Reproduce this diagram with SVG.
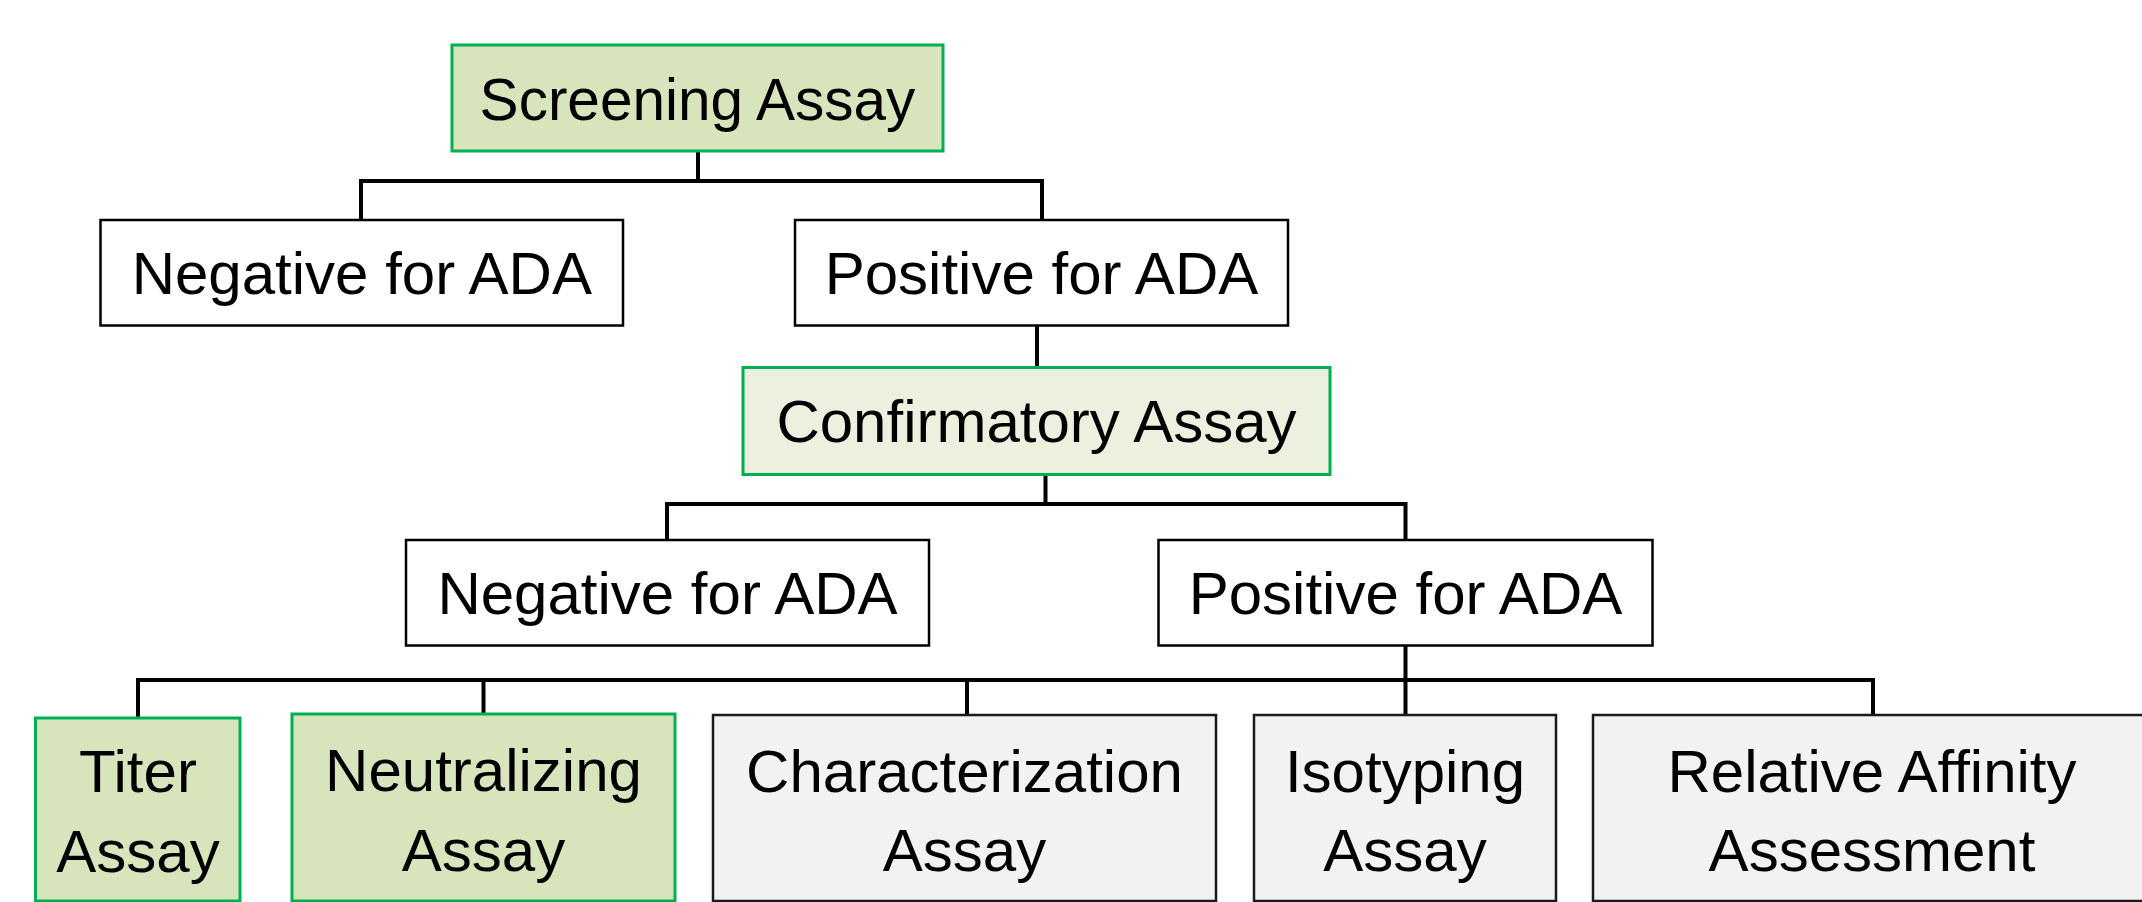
<svg xmlns="http://www.w3.org/2000/svg" width="2142" height="902" viewBox="0 0 2142 902">
<style>
  .box { fill: #ffffff; stroke: #000000; stroke-width: 2.5; }
  .green { fill: #d8e4bc; stroke: #00b050; stroke-width: 3; }
  .lgreen { fill: #ebf1de; stroke: #00b050; stroke-width: 3; }
  .gray { fill: #f2f2f2; stroke: #1a1a1a; stroke-width: 2.5; }
  .lbl { font-family: "Liberation Sans", Arial, sans-serif; font-size: 60px; fill: #000000; text-anchor: middle; }
  .sm { font-size: 58.5px; }
  .conn path { fill: none; stroke: #000000; stroke-width: 4; stroke-linejoin: miter; stroke-linecap: butt; }
</style>
<rect x="0" y="0" width="2142" height="902" fill="#ffffff"/>
<g id="connectors" class="conn">
  <path d="M698,151 V181"/>
  <path d="M361,220 V181 H1042 V220"/>
  <path d="M1037,326 V367"/>
  <path d="M1045.5,474 V504"/>
  <path d="M667,540 V504 H1405.5 V540"/>
  <path d="M1405.5,645 V715"/>
  <path d="M138,718 V680 H1873 V715"/>
  <path d="M483.5,680 V714"/>
  <path d="M967,680 V715"/>
</g>
<g id="screening">
  <rect class="green" x="452" y="45" width="491" height="106"/>
  <text class="lbl sm" x="697.5" y="120">Screening Assay</text>
</g>
<g id="negative1">
  <rect class="box" x="100.5" y="220" width="522.5" height="105.5"/>
  <text class="lbl" x="361.8" y="294">Negative for ADA</text>
</g>
<g id="positive1">
  <rect class="box" x="795" y="220" width="493" height="105.5"/>
  <text class="lbl" x="1041.5" y="294">Positive for ADA</text>
</g>
<g id="confirmatory">
  <rect class="lgreen" x="743" y="367.5" width="587" height="107"/>
  <text class="lbl" x="1036.5" y="442">Confirmatory Assay</text>
</g>
<g id="negative2">
  <rect class="box" x="406" y="540" width="523" height="105.5"/>
  <text class="lbl" x="667.5" y="614">Negative for ADA</text>
</g>
<g id="positive2">
  <rect class="box" x="1158.5" y="540" width="494" height="105.5"/>
  <text class="lbl" x="1405.5" y="614">Positive for ADA</text>
</g>
<g id="titer">
  <rect class="green" x="35.5" y="718" width="204.5" height="183"/>
  <text class="lbl" x="138" y="792">Titer</text>
  <text class="lbl" x="138" y="872">Assay</text>
</g>
<g id="neutralizing">
  <rect class="green" x="292" y="714" width="383" height="187"/>
  <text class="lbl" x="483.5" y="791">Neutralizing</text>
  <text class="lbl" x="483.5" y="871">Assay</text>
</g>
<g id="characterization">
  <rect class="gray" x="713" y="715" width="503" height="186"/>
  <text class="lbl" x="964.5" y="792">Characterization</text>
  <text class="lbl" x="964.5" y="871">Assay</text>
</g>
<g id="isotyping">
  <rect class="gray" x="1254" y="715" width="302" height="186"/>
  <text class="lbl" x="1405" y="792">Isotyping</text>
  <text class="lbl" x="1405" y="871">Assay</text>
</g>
<g id="relative">
  <rect class="gray" x="1593" y="715" width="560" height="186"/>
  <text class="lbl" x="1872" y="792">Relative Affinity</text>
  <text class="lbl" x="1872" y="871">Assessment</text>
</g>
</svg>
